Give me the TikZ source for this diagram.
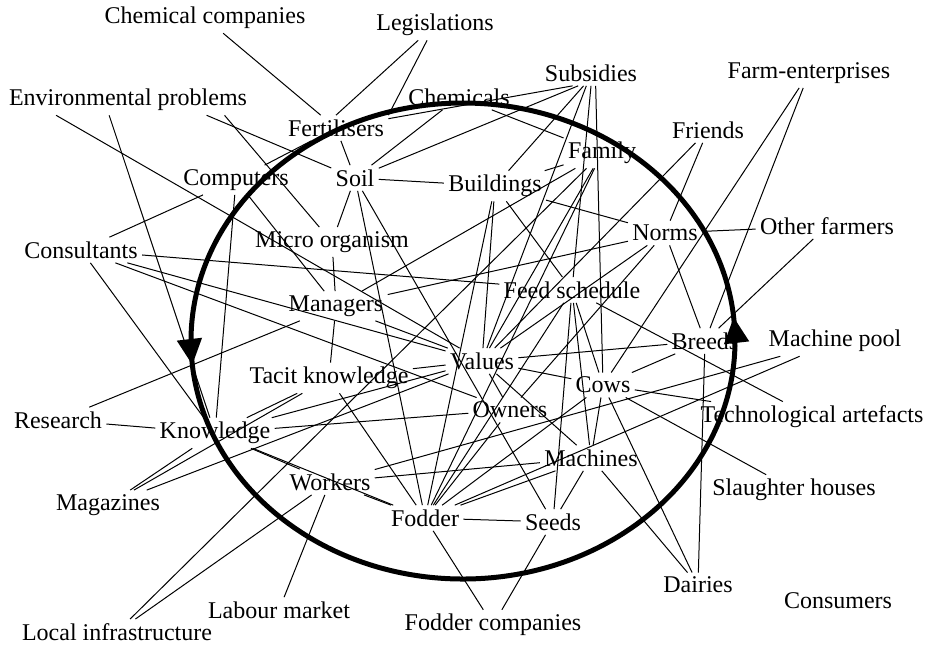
\documentclass[tikz,border=0pt]{standalone}
\usepackage{fontspec}
\setmainfont{Liberation Serif}
\usetikzlibrary{arrows.meta, decorations.markings}

\begin{document}
\begin{tikzpicture}[x=0.5pt, y=-0.5pt,
	lbl/.style={inner sep=2pt, font=\fontsize{12}{14}\selectfont},
	ln/.style={-, line width=0.5pt, black},
	ring/.style={line width=2.5pt, black, postaction={decorate},
		decoration={markings,
			mark=at position 0.485 with {\arrowreversed{Triangle[length=13pt,width=12pt]}},
			mark=at position 0.985 with {\arrowreversed{Triangle[length=13pt,width=12pt]}}}}]
					\useasboundingbox (0,0) rectangle (927,645);

					\node[lbl] (chemco) at (205,18) {Chemical companies};
					\node[lbl] (legis) at (435,25) {Legislations};
					\node[lbl] (subs) at (591,73) {Subsidies};
					\node[lbl] (farment) at (809,73) {Farm-enterprises};
					\node[lbl] (envprob) at (128,100) {Environmental problems};
					\node[lbl] (chemicals) at (459,97) {Chemicals};
					\node[lbl] (fert) at (336,128) {Fertilisers};
					\node[lbl] (friends) at (708,130) {Friends};
					\node[lbl] (family) at (602,153) {Family};
					\node[lbl] (soil) at (355,178) {Soil};
					\node[lbl] (computers) at (236,180) {Computers};
					\node[lbl] (buildings) at (495,186) {Buildings};
					\node[lbl] (micro) at (332,242) {Micro organism};
					\node[lbl] (norms) at (665,233) {Norms};
					\node[lbl] (otherfarm) at (827,226) {Other farmers};
					\node[lbl] (consult) at (81,250) {Consultants};
					\node[lbl] (feed) at (572,290) {Feed schedule};
					\node[lbl] (managers) at (336,306) {Managers};
					\node[lbl] (breeds) at (705,341) {Breeds};
					\node[lbl] (machpool) at (835,341) {Machine pool};
					\node[lbl] (values) at (482,361) {Values};
					\node[lbl] (tacit) at (329,378) {Tacit knowledge};
					\node[lbl] (cows) at (603,385) {Cows};
					\node[lbl] (owners) at (510,410) {Owners};
					\node[lbl] (tech) at (812,417) {Technological artefacts};
					\node[lbl] (research) at (58,420) {Research};
					\node[lbl] (know) at (215,433) {Knowledge};
					\node[lbl] (machines) at (591,458) {Machines};
					\node[lbl] (workers) at (330,482) {Workers};
					\node[lbl] (magazines) at (108,505) {Magazines};
					\node[lbl] (slaughter) at (794,490) {Slaughter houses};
					\node[lbl] (fodder) at (425,518) {Fodder};
					\node[lbl] (seeds) at (553,522) {Seeds};
					\node[lbl] (dairies) at (698,585) {Dairies};
					\node[lbl] (consumers) at (838,601) {Consumers};
					\node[lbl] (labour) at (279,610) {Labour market};
					\node[lbl] (localinfra) at (117,632) {Local infrastructure};
					\node[lbl] (foddercomp) at (493,625) {Fodder companies};

					\draw[ring] (463,341) ellipse [x radius=272, y radius=238];

					\path [ln] (chemco) edge (fert);
					\path [ln] (legis) edge (fert.north) edge (fert.north east);
					\path [ln] (envprob.349) edge (soil) (envprob.351) edge (micro);
					\path [ln] (envprob.192) edge (values) (envprob.219) edge (know);
					\path [ln] (chemicals) edge (soil) edge (family);
					\path [ln] (subs.215) edge (fert) (subs.225) edge (soil) (subs.240) edge (buildings);
					\path [ln] (subs.250) edge (values) (subs.270) edge (feed) (subs.290) edge (cows);
					\path [ln] (fert) edge (soil) edge (computers);
					\path [ln] (computers) edge (consult) edge (know) edge (managers);
					\path [ln] (soil) edge (buildings) edge (micro) edge (fodder) edge (seeds);
					\path [ln] (family) edge (buildings) edge (managers) edge (values) edge (fodder) edge (localinfra);
					\path [ln] (buildings) edge (feed) edge (norms) edge (values) edge (fodder);
					\path [ln] (friends) edge (norms) edge (values);
					\path [ln] (farment) edge (cows) edge (breeds);
					\path [ln] (otherfarm) edge (norms) edge (breeds);
					\path [ln] (norms) edge (breeds) edge (managers) edge (values) edge (owners);
					\path [ln] (consult) edge (feed) edge (values) edge (owners) edge (know);
					\path [ln] (micro) edge (managers);
					\path [ln] (managers) edge (tacit) edge (values) edge (research);
					\path [ln] (feed) edge (tech) edge (cows) edge (machines) edge (seeds) edge (fodder);
					\path [ln] (breeds) edge (values) edge (cows) edge (dairies);
					\path [ln] (machpool) edge (workers) edge (fodder);
					\path [ln] (values) edge (tacit) edge (cows) edge (owners) edge (machines);
					\path [ln] (tacit) edge (fodder) edge (know);
					\path [ln] (cows) edge (tech) edge (slaughter) edge (dairies) edge (machines) edge (fodder);
					\path [ln] (owners) edge (fodder) edge (know);
					\path [ln] (know) edge (research) edge (values) edge (workers) edge (fodder) edge (magazines);
					\path [ln] (magazines) edge (values) edge (tacit);
					\path [ln] (machines) edge (dairies) edge (fodder) edge (workers) edge (seeds);
					\path [ln] (workers) edge (fodder) edge (labour) edge (localinfra);
					\path [ln] (fodder) edge (seeds) edge (foddercomp);
					\path [ln] (seeds) edge (foddercomp);
\end{tikzpicture}
\end{document}
